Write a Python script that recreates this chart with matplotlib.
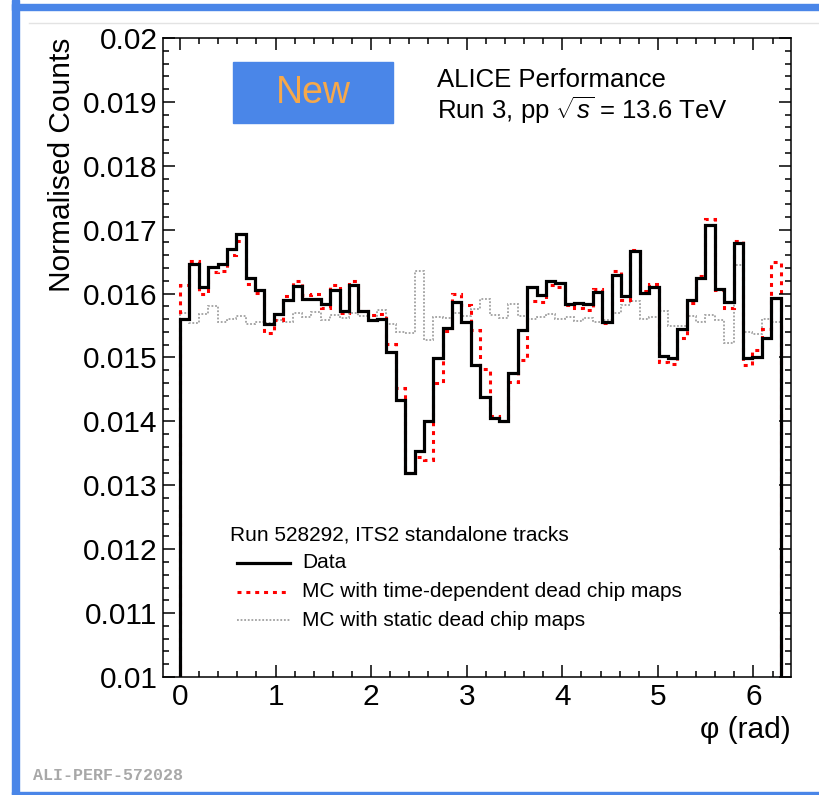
import numpy as np
import matplotlib
matplotlib.use("Agg")
import matplotlib.pyplot as plt
from matplotlib.ticker import MultipleLocator, FuncFormatter
from matplotlib.patches import Rectangle
from matplotlib.lines import Line2D

plt.rcParams['font.family'] = ['Liberation Sans', 'DejaVu Sans']
plt.rcParams['mathtext.fontset'] = 'custom'
plt.rcParams['mathtext.rm'] = 'Liberation Sans'
plt.rcParams['mathtext.it'] = 'Liberation Sans:italic'

# phi distribution, 64 bins over [0, 2pi]
n_bins = 64
data_counts = [
    0.01561, 0.01646, 0.01611, 0.01642, 0.01647, 0.01670, 0.01693, 0.01625, 0.01606, 0.01552,
    0.01568, 0.01590, 0.01612, 0.01591, 0.01592, 0.01583, 0.01605, 0.01572, 0.01613, 0.01573,
    0.01559, 0.01560, 0.01509, 0.01434, 0.01319, 0.01353, 0.01401, 0.01500, 0.01546, 0.01587,
    0.01556, 0.01488, 0.01438, 0.01405, 0.01400, 0.01476, 0.01543, 0.01610, 0.01598, 0.01619,
    0.01616, 0.01584, 0.01586, 0.01583, 0.01603, 0.01556, 0.01629, 0.01597, 0.01666, 0.01601,
    0.01611, 0.01503, 0.01500, 0.01544, 0.01590, 0.01625, 0.01707, 0.01607, 0.01587, 0.01679,
    0.01499, 0.01501, 0.01531, 0.01593]
mc_time_dep = [
    0.01614, 0.01651, 0.01600, 0.01634, 0.01635, 0.01661, 0.01682, 0.01615, 0.01601, 0.01538,
    0.01559, 0.01597, 0.01620, 0.01598, 0.01599, 0.01577, 0.01614, 0.01569, 0.01619, 0.01572,
    0.01567, 0.01568, 0.01521, 0.01452, 0.01320, 0.01344, 0.01340, 0.01460, 0.01542, 0.01600,
    0.01582, 0.01543, 0.01482, 0.01409, 0.01400, 0.01461, 0.01496, 0.01589, 0.01587, 0.01613,
    0.01611, 0.01582, 0.01577, 0.01574, 0.01607, 0.01554, 0.01635, 0.01590, 0.01669, 0.01604,
    0.01615, 0.01493, 0.01490, 0.01530, 0.01585, 0.01628, 0.01717, 0.01605, 0.01577, 0.01682,
    0.01489, 0.01511, 0.01544, 0.01650]
mc_static = [
    0.01570, 0.01554, 0.01568, 0.01580, 0.01556, 0.01561, 0.01565, 0.01552, 0.01556, 0.01554,
    0.01558, 0.01556, 0.01570, 0.01564, 0.01571, 0.01559, 0.01566, 0.01562, 0.01570, 0.01565,
    0.01559, 0.01574, 0.01553, 0.01540, 0.01538, 0.01635, 0.01528, 0.01564, 0.01562, 0.01570,
    0.01565, 0.01576, 0.01592, 0.01566, 0.01562, 0.01583, 0.01565, 0.01560, 0.01564, 0.01568,
    0.01560, 0.01564, 0.01557, 0.01562, 0.01555, 0.01559, 0.01570, 0.01582, 0.01588, 0.01560,
    0.01563, 0.01573, 0.01550, 0.01549, 0.01565, 0.01556, 0.01567, 0.01559, 0.01523, 0.01645,
    0.01540, 0.01536, 0.01560, 0.01555]
legend_labels = ["Data", "MC with time-dependent dead chip maps", "MC with static dead chip maps"]

edges = np.linspace(0, 2 * np.pi, n_bins + 1)

W, H = 819, 795
fig = plt.figure(figsize=(W / 100, H / 100), dpi=100)

def fx(px):
    return px / W

def fy(py):
    return 1 - py / H

# page frame
fig.patches.append(Rectangle((fx(12), fy(795)), fx(7), 1, transform=fig.transFigure, color='#4a86e8', zorder=0))
fig.patches.append(Rectangle((fx(12), fy(10)), 1, 6 / H, transform=fig.transFigure, color='#4a86e8', zorder=0))
fig.patches.append(Rectangle((fx(12), fy(794)), 1, 2.5 / H, transform=fig.transFigure, color='#4a86e8', zorder=0))
fig.lines.append(Line2D([fx(29), 1], [fy(23), fy(23)], transform=fig.transFigure, color='#e3e3e3', lw=1))

ax = fig.add_axes([fx(163), fy(677), 628 / W, 639 / H])
ax.stairs(mc_static, edges, baseline=0.01, color='#a0a0a0', lw=1.3, ls=(0, (1, 1)))
ax.stairs(mc_time_dep, edges, baseline=0.01, color='red', lw=2.2, ls=(0, (1.3, 1.6)))
ax.stairs(data_counts, edges, baseline=0.01, color='black', lw=2.3)

ax.set_xlim(-0.178, 6.393)
ax.set_ylim(0.01, 0.02)
ax.xaxis.set_major_locator(MultipleLocator(1))
ax.xaxis.set_minor_locator(MultipleLocator(0.2))
ax.yaxis.set_major_locator(MultipleLocator(0.001))
ax.yaxis.set_minor_locator(MultipleLocator(0.0002))
ax.yaxis.set_major_formatter(FuncFormatter(lambda v, p: f"{round(v, 4):g}"))
ax.tick_params(which='both', direction='in', top=True, right=True, width=1.1, labelsize=21.5, pad=4)
ax.tick_params(which='major', length=8.6)
ax.tick_params(which='minor', length=4.3)
for s in ax.spines.values():
    s.set_linewidth(1.1)

fig.text(fx(62), fy(38), "Normalised Counts", rotation=90, ha='center', va='top', fontsize=21.5)
fig.text(fx(791), fy(730), "φ (rad)", ha='right', va='center', fontsize=21.5)

# "New" badge and header
fig.patches.append(Rectangle((fx(233), fy(123)), 160 / W, 61 / H, transform=fig.transFigure,
                             color='#4a86e8', zorder=3))
fig.text(fx(313), fy(93), "New", ha='center', va='center', fontsize=27, color='#f6a84a', zorder=4)
fig.text(fx(437), fy(80), "ALICE Performance", ha='left', va='center', fontsize=18.5)
fig.text(fx(437), fy(110), r"Run 3, pp $\sqrt{s}$ = 13.6 TeV", ha='left', va='center', fontsize=18.5)

# legend
def axx(px):
    return (px - 163) / 628

def axy(py):
    return (677 - py) / 639

ax.text(axx(230), axy(535), "Run 528292, ITS2 standalone tracks", transform=ax.transAxes,
        ha='left', va='center', fontsize=15)
styles = [dict(color='black', lw=2.3),
          dict(color='red', lw=2.2, ls=(0, (1.3, 1.6))),
          dict(color='#a0a0a0', lw=1.3, ls=(0, (1, 1)))]
for i, (lab, st) in enumerate(zip(legend_labels, styles)):
    yy = axy(563 + 28.5 * i)
    ax.plot([axx(237), axx(290)], [yy, yy], transform=ax.transAxes, **st)
    ax.text(axx(302), yy, lab, transform=ax.transAxes, ha='left', va='center', fontsize=15)

fig.text(fx(33), fy(775), "ALI-PERF-572028", ha='left', va='center', fontsize=12,
         family='Liberation Mono', weight='bold', color='#a8a8a8')

fig.savefig("out.png", dpi=100)
